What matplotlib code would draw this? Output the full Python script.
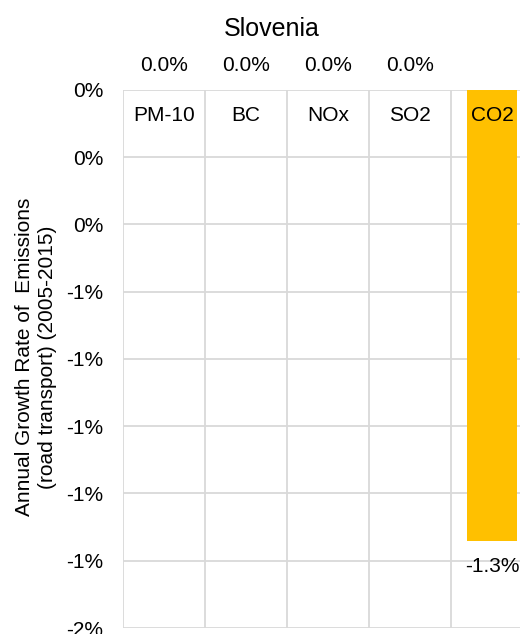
import matplotlib
matplotlib.use("Agg")
import matplotlib.pyplot as plt
from matplotlib.ticker import FuncFormatter

plt.rcParams['font.family'] = ['Liberation Sans', 'DejaVu Sans']

# Data
pollutants = ["PM-10", "BC", "NOx", "SO2", "CO2"]
growth_rates = [0.0, 0.0, 0.0, 0.0, -1.34]   # % per year, 2005-2015
country = "Slovenia"
ytick_values = [0.0, -0.2, -0.4, -0.6, -0.8, -1.0, -1.2, -1.4, -1.6]

bar_color = "#FFC000"
grid_color = "#D9D9D9"

fig = plt.figure(figsize=(5.2, 6.34), dpi=100)
# axes runs slightly past the right edge of the canvas
ax = fig.add_axes([123 / 520, 1 - 628 / 634, 410 / 520, 538 / 634])

xs = [i + 0.5 for i in range(len(pollutants))]
ax.bar(xs, growth_rates, width=0.62, color=bar_color, zorder=2)

ax.set_xlim(0, len(pollutants))
ax.set_ylim(-1.6, 0)
ax.set_yticks(ytick_values)
ax.yaxis.set_major_formatter(FuncFormatter(lambda v, p: f"{v:.0f}%".replace("-0%", "0%")))
ax.set_xticks(range(len(pollutants) + 1))
ax.set_xticklabels([])
ax.tick_params(axis='both', length=0)
ax.tick_params(axis='y', labelsize=15, pad=14)
ax.grid(True, color=grid_color, linewidth=1.3, zorder=0)
for s in ax.spines.values():
    s.set_visible(False)

# category names inside each panel
for x, name in zip(xs, pollutants):
    ax.text(x, -0.075, name, ha='center', va='center', fontsize=15, zorder=3)

# value labels
for x, v in zip(xs, growth_rates):
    if v >= 0:
        ax.annotate(f"{v:.1f}%", (x, v), xytext=(0, 11), textcoords='offset points',
                    ha='center', va='bottom', fontsize=15, annotation_clip=False)
    else:
        ax.annotate(f"{v:.1f}%", (x, v), xytext=(0, -12), textcoords='offset points',
                    ha='center', va='top', fontsize=15, annotation_clip=False)

fig.text(272 / 520, 1 - 29 / 634, country, ha='center', va='center', fontsize=18)
fig.text(36 / 520, 1 - 357 / 634,
         "Annual Growth Rate of  Emissions\n(road transport) (2005-2015)",
         rotation=90, ha='center', va='center', fontsize=15, linespacing=1.25)

fig.savefig("out.png", dpi=100)
